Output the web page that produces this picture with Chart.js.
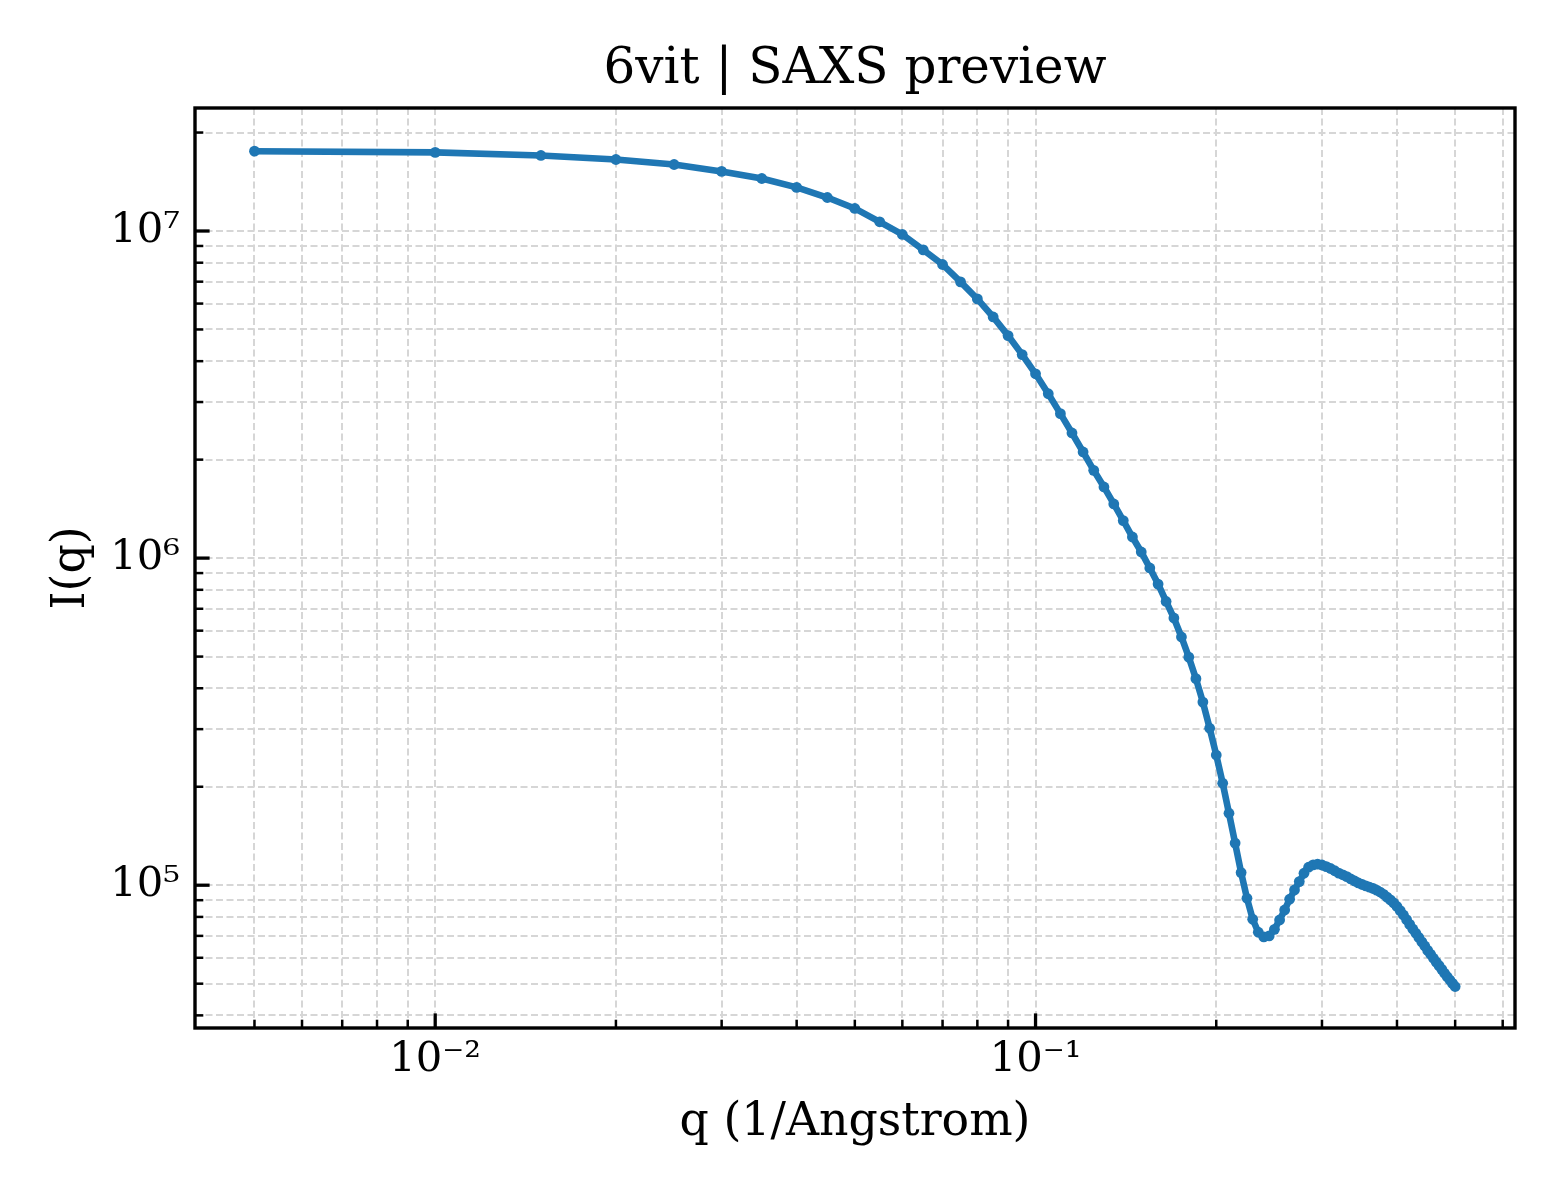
<!DOCTYPE html>
<html>
<head>
<meta charset="utf-8">
<title>6vit | SAXS preview</title>
<script src="https://cdn.jsdelivr.net/npm/chart.js@4.4.1/dist/chart.umd.min.js"></script>
<style>
  html, body { margin: 0; padding: 0; background: #fff; }
  #chart { display: block; }
</style>
</head>
<body>
<canvas id="chart" width="1560" height="1200" style="width:1560px;height:1200px"></canvas>
<script>
// values
var qValues = [
    0.005, 0.010, 0.015, 0.020, 0.025, 0.030, 0.035, 0.040, 0.045, 0.050,
    0.055, 0.060, 0.065, 0.070, 0.075, 0.080, 0.085, 0.090, 0.095, 0.100,
    0.105, 0.110, 0.115, 0.120, 0.125, 0.130, 0.135, 0.140, 0.145, 0.150,
    0.155, 0.160, 0.165, 0.170, 0.175, 0.180, 0.185, 0.190, 0.195, 0.200,
    0.205, 0.210, 0.215, 0.220, 0.225, 0.230, 0.235, 0.240, 0.245, 0.250,
    0.255, 0.260, 0.265, 0.270, 0.275, 0.280, 0.285, 0.290, 0.295, 0.300,
    0.305, 0.310, 0.315, 0.320, 0.325, 0.330, 0.335, 0.340, 0.345, 0.350,
    0.355, 0.360, 0.365, 0.370, 0.375, 0.380, 0.385, 0.390, 0.395, 0.400,
    0.405, 0.410, 0.415, 0.420, 0.425, 0.430, 0.435, 0.440, 0.445, 0.450,
    0.455, 0.460, 0.465, 0.470, 0.475, 0.480, 0.485, 0.490, 0.495, 0.500
];
var intensity = [
    1.754e7, 1.739e7, 1.702e7, 1.654e7, 1.597e7, 1.521e7, 1.447e7, 1.359e7, 1.266e7, 1.172e7,
    1.067e7, 9.76e6, 8.76e6, 7.90e6, 6.99e6, 6.20e6, 5.46e6, 4.79e6, 4.19e6, 3.66e6,
    3.18e6, 2.765e6, 2.413e6, 2.111e6, 1.855e6, 1.650e6, 1.464e6, 1.302e6, 1.160e6, 1.044e6,
    9.33e5, 8.33e5, 7.37e5, 6.56e5, 5.74e5, 4.98e5, 4.28e5, 3.63e5, 3.02e5, 2.50e5,
    2.05e5, 1.66e5, 1.345e5, 1.093e5, 9.12e4, 7.87e4, 7.18e4, 6.95e4, 7.00e4, 7.33e4,
    7.83e4, 8.40e4, 9.06e4, 9.67e4, 1.026e5, 1.088e5, 1.135e5, 1.154e5, 1.160e5, 1.153e5,
    1.140e5, 1.125e5, 1.107e5, 1.089e5, 1.076e5, 1.062e5, 1.045e5, 1.030e5, 1.016e5, 1.005e5,
    9.95e4, 9.86e4, 9.77e4, 9.66e4, 9.53e4, 9.38e4, 9.20e4, 9.02e4, 8.83e4, 8.61e4,
    8.36e4, 8.11e4, 7.85e4, 7.59e4, 7.35e4, 7.13e4, 6.92e4, 6.71e4, 6.52e4, 6.32e4,
    6.15e4, 5.98e4, 5.82e4, 5.68e4, 5.53e4, 5.38e4, 5.25e4, 5.13e4, 5.01e4, 4.90e4
];

// axis ranges and tick positions
var xRange = [0.00398, 0.629];
var yRange = [3.66e4, 2.377e7];
var xTicks = [
    0.005, 0.006, 0.007, 0.008, 0.009,
    0.01, 0.02, 0.03, 0.04, 0.05, 0.06, 0.07, 0.08, 0.09,
    0.1, 0.2, 0.3, 0.4, 0.5, 0.6
];
var yTicks = [
    4e4, 5e4, 6e4, 7e4, 8e4, 9e4,
    1e5, 2e5, 3e5, 4e5, 5e5, 6e5, 7e5, 8e5, 9e5,
    1e6, 2e6, 3e6, 4e6, 5e6, 6e6, 7e6, 8e6, 9e6,
    1e7, 2e7
];
var xTickLabels = { '0.01': '10\u207B\u00B2', '0.1': '10\u207B\u00B9' };
var yTickLabels = { '100000': '10\u2075', '1000000': '10\u2076', '10000000': '10\u2077' };

var SERIF = '"DejaVu Serif", serif';

function isDecade(v) {
    var e = Math.log10(v);
    return Math.abs(e - Math.round(e)) < 1e-9;
}

// matplotlib-like frame with inward ticks on the bottom and left
var frameAndTicks = {
    id: 'frameAndTicks',
    afterDraw: function (chart) {
        var ctx = chart.ctx;
        var a = chart.chartArea;
        var x = chart.scales.x;
        var y = chart.scales.y;
        ctx.save();
        ctx.strokeStyle = '#000';
        x.ticks.forEach(function (t) {
            var px = x.getPixelForValue(t.value);
            var major = isDecade(t.value);
            ctx.lineWidth = major ? 3.3 : 2.5;
            ctx.beginPath();
            ctx.moveTo(px, a.bottom);
            ctx.lineTo(px, a.bottom - (major ? 14.6 : 8.3));
            ctx.stroke();
        });
        y.ticks.forEach(function (t) {
            var py = y.getPixelForValue(t.value);
            var major = isDecade(t.value);
            ctx.lineWidth = major ? 3.3 : 2.5;
            ctx.beginPath();
            ctx.moveTo(a.left, py);
            ctx.lineTo(a.left + (major ? 14.6 : 8.3), py);
            ctx.stroke();
        });
        ctx.lineWidth = 3.4;
        ctx.strokeRect(a.left, a.top, a.right - a.left, a.bottom - a.top);
        ctx.restore();
    }
};

var gridStyle = {
    color: '#d6d6d6',
    lineWidth: 2,
    drawTicks: false
};

new Chart(document.getElementById('chart'), {
    type: 'line',
    data: {
        datasets: [{
            data: qValues.map(function (q, i) { return { x: q, y: intensity[i] }; }),
            borderColor: '#1f77b4',
            backgroundColor: '#1f77b4',
            borderWidth: 6.6,
            pointRadius: 5.4,
            pointBorderWidth: 0,
            pointBackgroundColor: '#1f77b4',
            tension: 0,
            fill: false
        }]
    },
    options: {
        responsive: false,
        animation: false,
        devicePixelRatio: 1,
        layout: { padding: { left: 0, top: 0, right: 45, bottom: 0 } },
        plugins: {
            legend: { display: false },
            tooltip: { enabled: false },
            title: {
                display: true,
                text: '6vit | SAXS preview',
                fullSize: false,
                color: '#000',
                font: { family: SERIF, size: 50, weight: 'normal', lineHeight: 1.2 },
                padding: { top: 40, bottom: 8 }
            }
        },
        scales: {
            x: {
                type: 'logarithmic',
                min: xRange[0],
                max: xRange[1],
                bounds: 'data',
                afterBuildTicks: function (scale) {
                    scale.ticks = xTicks.map(function (v) { return { value: v }; });
                },
                afterFit: function (scale) { scale.height = 172; },
                grid: gridStyle,
                border: { display: false, dash: [7, 3.5] },
                ticks: {
                    autoSkip: false,
                    maxRotation: 0,
                    padding: 7,
                    color: '#000',
                    font: { family: SERIF, size: 41.7 },
                    callback: function (v) { return xTickLabels[String(v)] || ''; }
                },
                title: {
                    display: true,
                    text: 'q (1/Angstrom)',
                    color: '#000',
                    font: { family: SERIF, size: 45.8, lineHeight: 1.2 },
                    padding: { top: 0, bottom: 49 }
                }
            },
            y: {
                type: 'logarithmic',
                min: yRange[0],
                max: yRange[1],
                bounds: 'data',
                afterBuildTicks: function (scale) {
                    scale.ticks = yTicks.map(function (v) { return { value: v }; });
                },
                afterFit: function (scale) { scale.width = 195; },
                grid: gridStyle,
                border: { display: false, dash: [7, 3.5] },
                ticks: {
                    autoSkip: false,
                    padding: 15,
                    color: '#000',
                    font: { family: SERIF, size: 41.7 },
                    callback: function (v) { return yTickLabels[String(v)] || ''; }
                },
                title: {
                    display: true,
                    text: 'I(q)',
                    color: '#000',
                    font: { family: SERIF, size: 45.8, lineHeight: 1.2 },
                    padding: { top: 45, bottom: 0 }
                }
            }
        }
    },
    plugins: [frameAndTicks]
});
</script>
</body>
</html>
